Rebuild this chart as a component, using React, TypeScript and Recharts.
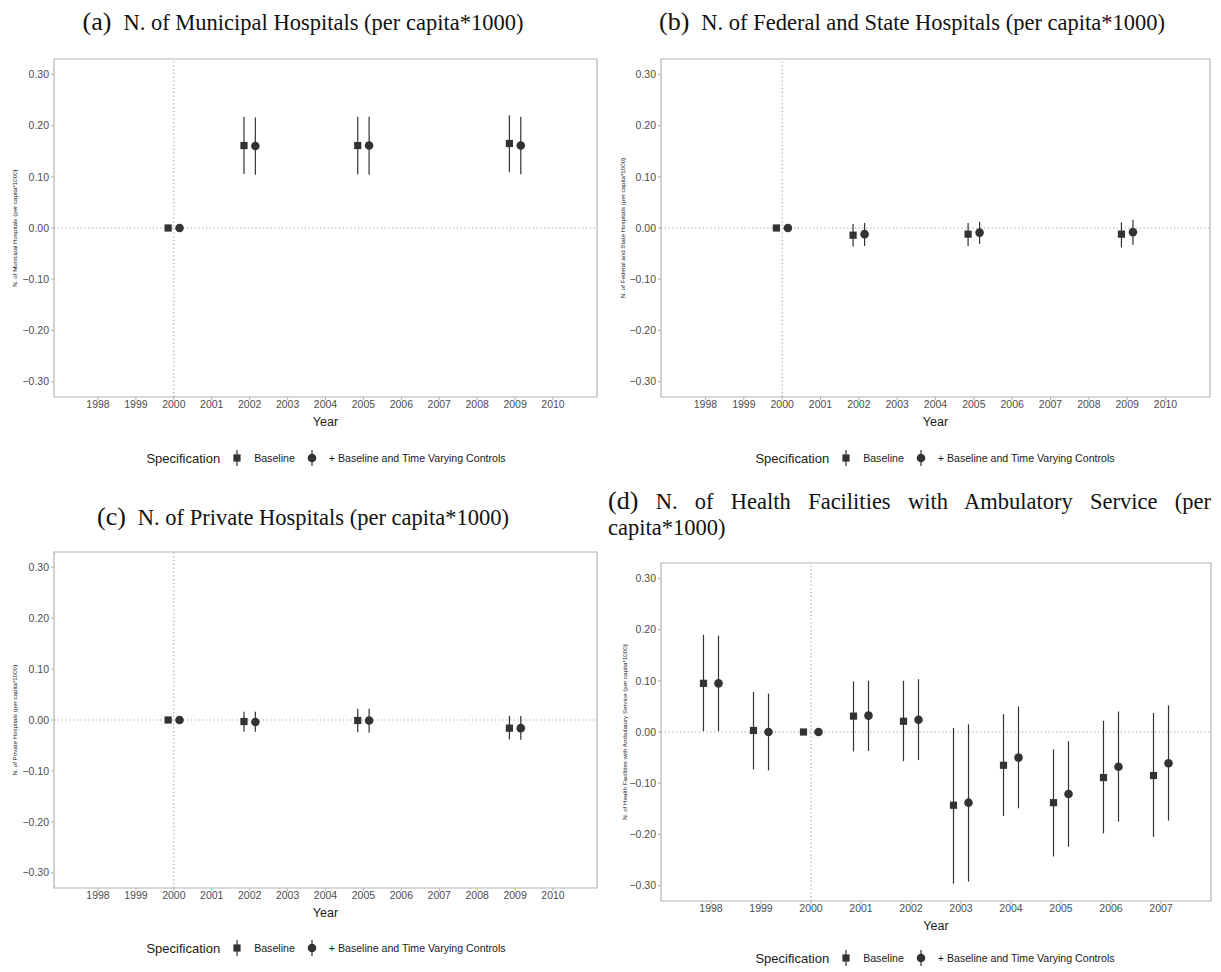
import React from "react";
import {
  ScatterChart,
  Scatter,
  XAxis,
  YAxis,
  ErrorBar,
  ReferenceLine,
  ReferenceArea,
} from "recharts";

// ---------- data ----------
const yearsA = [2000, 2002, 2005, 2009];
const baseEstA = [0, 0.161, 0.161, 0.165];
const baseLoA = [0, 0.1055, 0.105, 0.109];
const baseHiA = [0, 0.217, 0.217, 0.22];
const ctrlEstA = [0, 0.16, 0.161, 0.161];
const ctrlLoA = [0, 0.104, 0.104, 0.105];
const ctrlHiA = [0, 0.216, 0.217, 0.217];

const yearsB = [2000, 2002, 2005, 2009];
const baseEstB = [0, -0.014, -0.012, -0.012];
const baseLoB = [0, -0.036, -0.035, -0.038];
const baseHiB = [0, 0.008, 0.01, 0.011];
const ctrlEstB = [0, -0.012, -0.009, -0.008];
const ctrlLoB = [0, -0.035, -0.031, -0.033];
const ctrlHiB = [0, 0.01, 0.012, 0.016];

const yearsC = [2000, 2002, 2005, 2009];
const baseEstC = [0, -0.003, -0.001, -0.016];
const baseLoC = [0, -0.023, -0.024, -0.038];
const baseHiC = [0, 0.016, 0.022, 0.008];
const ctrlEstC = [0, -0.004, -0.001, -0.016];
const ctrlLoC = [0, -0.023, -0.025, -0.039];
const ctrlHiC = [0, 0.016, 0.022, 0.008];

const yearsD = [1998, 1999, 2000, 2001, 2002, 2003, 2004, 2005, 2006, 2007];
const baseEstD = [0.095, 0.003, 0, 0.031, 0.021, -0.143, -0.065, -0.138, -0.089, -0.085];
const baseLoD = [0.002, -0.073, 0, -0.038, -0.057, -0.296, -0.164, -0.243, -0.198, -0.205];
const baseHiD = [0.19, 0.078, 0, 0.099, 0.1, 0.008, 0.035, -0.034, 0.022, 0.037];
const ctrlEstD = [0.095, 0.0, 0, 0.032, 0.024, -0.138, -0.05, -0.121, -0.068, -0.061];
const ctrlLoD = [0.002, -0.075, 0, -0.037, -0.055, -0.292, -0.149, -0.224, -0.175, -0.173];
const ctrlHiD = [0.188, 0.075, 0, 0.1, 0.103, 0.015, 0.05, -0.018, 0.04, 0.052];

const ticksLong = [1998, 1999, 2000, 2001, 2002, 2003, 2004, 2005, 2006, 2007, 2008, 2009, 2010];
const ticksShort = [1998, 1999, 2000, 2001, 2002, 2003, 2004, 2005, 2006, 2007];
const yTicks = [-0.3, -0.2, -0.1, 0, 0.1, 0.2, 0.3];

const titleA = "N. of Municipal Hospitals (per capita*1000)";
const titleB = "N. of Federal and State Hospitals (per capita*1000)";
const titleC = "N. of Private Hospitals (per capita*1000)";
const titleD1 = "N. of Health Facilities with Ambulatory Service (per";
const titleD2 = "capita*1000)";
const yLabelA = "N. of Municipal Hospitals (per capita*1000)";
const yLabelB = "N. of Federal and State Hospitals (per capita*1000)";
const yLabelC = "N. of Private Hospitals (per capita*1000)";
const yLabelD = "N. of Health Facilities with Ambulatory Service (per capita*1000)";
const legendTitle = "Specification";
const legendBase = "Baseline";
const legendCtrl = "+ Baseline and Time Varying Controls";

// ---------- styling ----------
const DODGE = 0.15;
const DARK = "#333333";
const FRAME = "#b3b3b3";
const SANS = '"Liberation Sans", Arial, sans-serif';
const SERIF = '"Liberation Serif", "DejaVu Serif", serif';
const TITLE_SIZE = 22.5;
const LETTER_SIZE = 26;

function build(years: number[], est: number[], lo: number[], hi: number[], shift: number) {
  return years.map((yr, i) => ({
    x: yr + shift,
    y: est[i],
    err: [est[i] - lo[i], hi[i] - est[i]],
  }));
}

const SquareShape = (props: any) => {
  const { cx, cy } = props;
  if (cx == null || cy == null) return null;
  return <rect x={cx - 3.6} y={cy - 3.6} width={7.2} height={7.2} fill={DARK} />;
};
const CircleShape = (props: any) => {
  const { cx, cy } = props;
  if (cx == null || cy == null) return null;
  return <circle cx={cx} cy={cy} r={4.3} fill={DARK} />;
};

const fmtY = (v: number) => {
  const r = Math.round(v * 100) / 100;
  if (r < 0) return "\u2212" + Math.abs(r).toFixed(2);
  return r.toFixed(2);
};

const YLabel = (text: string, dx: number) => (props: any) => {
  const vb = props.viewBox || {};
  const x = (vb.x || 0) + dx;
  const y = (vb.y || 0) + (vb.height || 0) / 2;
  return (
    <text
      x={x}
      y={y}
      transform={`rotate(-90 ${x} ${y})`}
      textAnchor="middle"
      dominantBaseline="central"
      fontSize={6.2}
      fontFamily={SANS}
      fill="#1a1a1a"
    >
      {text}
    </text>
  );
};

type PanelProps = {
  left: number;
  top: number;
  width: number;
  height: number;
  margin: { top: number; right: number; bottom: number; left: number };
  yAxisWidth: number;
  xDomain: [number, number];
  xTicks: number[];
  base: any[];
  ctrl: any[];
  yLabel: string;
  yLabelDx: number;
};

function Panel(p: PanelProps) {
  return (
    <div style={{ position: "absolute", left: p.left, top: p.top }}>
      <ScatterChart width={p.width} height={p.height} margin={p.margin}>
        <XAxis
          type="number"
          dataKey="x"
          domain={p.xDomain}
          ticks={p.xTicks}
          allowDataOverflow
          axisLine={false}
          tickLine={{ stroke: FRAME }}
          tickSize={3}
          tickMargin={1}
          height={29}
          tick={{ fontSize: 10.5, fill: "#4d4d4d", fontFamily: SANS }}
          interval={0}
          label={{
            value: "Year",
            position: "insideBottom",
            offset: 0,
            fontSize: 12.5,
            fill: "#1a1a1a",
            fontFamily: SANS,
          }}
        />
        <YAxis
          type="number"
          dataKey="y"
          domain={[-0.33, 0.33]}
          ticks={yTicks}
          allowDataOverflow
          axisLine={false}
          tickLine={{ stroke: FRAME }}
          tickSize={3}
          tickMargin={2}
          width={p.yAxisWidth}
          tickFormatter={fmtY}
          tick={{ fontSize: 10.5, fill: "#4d4d4d", fontFamily: SANS }}
          label={{ content: YLabel(p.yLabel, p.yLabelDx) }}
        />
        <ReferenceArea
          x1={p.xDomain[0]}
          x2={p.xDomain[1]}
          y1={-0.33}
          y2={0.33}
          fill="#ffffff"
          fillOpacity={0}
          stroke={FRAME}
          strokeWidth={1.2}
        />
        <ReferenceLine y={0} stroke="#9a9a9a" strokeDasharray="1.2 2.6" strokeWidth={1.1} />
        <ReferenceLine x={2000} stroke="#9a9a9a" strokeDasharray="1.2 2.6" strokeWidth={1.1} />
        <Scatter data={p.base} shape={SquareShape} isAnimationActive={false}>
          <ErrorBar dataKey="err" direction="y" width={0} stroke={DARK} strokeWidth={1.2} />
        </Scatter>
        <Scatter data={p.ctrl} shape={CircleShape} isAnimationActive={false}>
          <ErrorBar dataKey="err" direction="y" width={0} stroke={DARK} strokeWidth={1.2} />
        </Scatter>
      </ScatterChart>
    </div>
  );
}

function LegendIcon({ kind }: { kind: "square" | "circle" }) {
  return (
    <svg width={12} height={20} style={{ display: "block" }}>
      <line x1={6} y1={2} x2={6} y2={18} stroke={DARK} strokeWidth={1.2} />
      {kind === "square" ? (
        <rect x={2.4} y={6.4} width={7.2} height={7.2} fill={DARK} />
      ) : (
        <circle cx={6} cy={10} r={4.3} fill={DARK} />
      )}
    </svg>
  );
}

function Legend({ cx, cy }: { cx: number; cy: number }) {
  return (
    <div
      style={{
        position: "absolute",
        left: cx - 300,
        top: cy - 10,
        width: 600,
        height: 20,
        display: "flex",
        justifyContent: "center",
        alignItems: "center",
        fontFamily: SANS,
        color: "#1a1a1a",
        whiteSpace: "nowrap",
      }}
    >
      <span style={{ fontSize: 13 }}>{legendTitle}</span>
      <span style={{ width: 11 }} />
      <LegendIcon kind="square" />
      <span style={{ width: 11 }} />
      <span style={{ fontSize: 10.6 }}>{legendBase}</span>
      <span style={{ width: 11 }} />
      <LegendIcon kind="circle" />
      <span style={{ width: 11 }} />
      <span style={{ fontSize: 10.6 }}>{legendCtrl}</span>
    </div>
  );
}

function Title({ letter, text, cx, cy }: { letter: string; text: string; cx: number; cy: number }) {
  return (
    <div
      style={{
        position: "absolute",
        left: cx - 300,
        top: cy - 16,
        width: 600,
        height: 32,
        lineHeight: "32px",
        textAlign: "center",
        fontFamily: SERIF,
        fontSize: TITLE_SIZE,
        color: "#111",
        whiteSpace: "nowrap",
      }}
    >
      <span style={{ fontSize: LETTER_SIZE, marginRight: 12 }}>({letter})</span>
      {text}
    </div>
  );
}

const domLong: [number, number] = [1996.84, 2011.16];
const domShort: [number, number] = [1997, 2008];

export default function App() {
  return (
    <div
      style={{
        position: "absolute",
        left: 0,
        top: 0,
        width: 1221,
        height: 972,
        background: "#ffffff",
        overflow: "hidden",
      }}
    >
      <Title letter="a" text={titleA} cx={303} cy={22} />
      <Title letter="b" text={titleB} cx={912} cy={22} />
      <Title letter="c" text={titleC} cx={303} cy={517} />
      <div
        style={{
          position: "absolute",
          left: 608,
          top: 488,
          width: 603,
          fontFamily: SERIF,
          fontSize: TITLE_SIZE,
          color: "#111",
          lineHeight: "26px",
        }}
      >
        <div style={{ textAlign: "justify", textAlignLast: "justify", whiteSpace: "nowrap" } as any}>
          <span style={{ fontSize: LETTER_SIZE }}>(d)</span> {titleD1}
        </div>
        <div>{titleD2}</div>
      </div>

      <Panel
        left={0}
        top={0}
        width={610}
        height={440}
        margin={{ top: 59, right: 13, bottom: 14, left: 0 }}
        yAxisWidth={54}
        xDomain={domLong}
        xTicks={ticksLong}
        base={build(yearsA, baseEstA, baseLoA, baseHiA, -DODGE)}
        ctrl={build(yearsA, ctrlEstA, ctrlLoA, ctrlHiA, DODGE)}
        yLabel={yLabelA}
        yLabelDx={14}
      />
      <Panel
        left={610}
        top={0}
        width={611}
        height={440}
        margin={{ top: 59, right: 11, bottom: 14, left: 0 }}
        yAxisWidth={51}
        xDomain={domLong}
        xTicks={ticksLong}
        base={build(yearsB, baseEstB, baseLoB, baseHiB, -DODGE)}
        ctrl={build(yearsB, ctrlEstB, ctrlLoB, ctrlHiB, DODGE)}
        yLabel={yLabelB}
        yLabelDx={12}
      />
      <Panel
        left={0}
        top={492}
        width={610}
        height={440}
        margin={{ top: 60, right: 13, bottom: 15, left: 0 }}
        yAxisWidth={54}
        xDomain={domLong}
        xTicks={ticksLong}
        base={build(yearsC, baseEstC, baseLoC, baseHiC, -DODGE)}
        ctrl={build(yearsC, ctrlEstC, ctrlLoC, ctrlHiC, DODGE)}
        yLabel={yLabelC}
        yLabelDx={14}
      />
      <Panel
        left={610}
        top={492}
        width={611}
        height={440}
        margin={{ top: 71, right: 10, bottom: 2, left: 0 }}
        yAxisWidth={51}
        xDomain={domShort}
        xTicks={ticksShort}
        base={build(yearsD, baseEstD, baseLoD, baseHiD, -DODGE)}
        ctrl={build(yearsD, ctrlEstD, ctrlLoD, ctrlHiD, DODGE)}
        yLabel={yLabelD}
        yLabelDx={14}
      />

      <Legend cx={326} cy={458} />
      <Legend cx={935} cy={458} />
      <Legend cx={326} cy={948} />
      <Legend cx={935} cy={958} />
    </div>
  );
}
